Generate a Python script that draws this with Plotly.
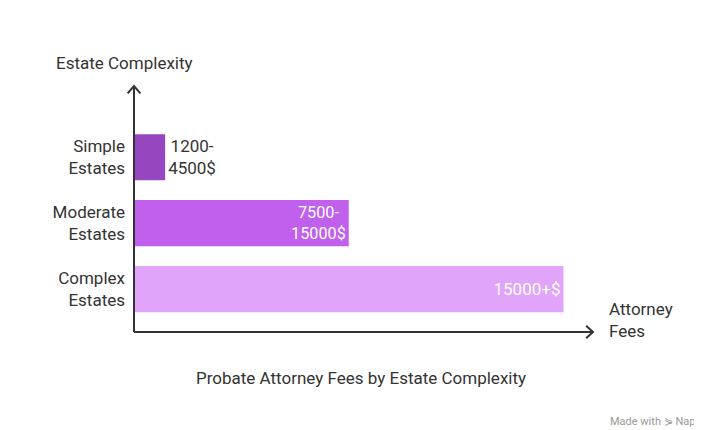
import plotly.graph_objects as go

categories = ["Complex<br>Estates", "Moderate<br>Estates", "Simple<br>Estates"]
values = [26.2, 13.1, 1.9]
labels = ["15000+$", "7500-<br>15000$", "1200-<br>4500$"]
colors = ["#E0A4FA", "#C060EC", "#9646BE"]
positions = ["inside", "inside", "outside"]

fig = go.Figure()
fig.add_trace(go.Bar(
    y=[0, 1, 2], x=values, orientation="h", width=0.7,
    marker=dict(color=colors, line=dict(width=0)),
    text=labels, textposition=positions, insidetextanchor="end",
    textfont=dict(size=17, family="Roboto"),
    insidetextfont=dict(color="white", size=17), outsidetextfont=dict(color="#333", size=17),
    cliponaxis=False, hoverinfo="skip"))

fig.update_layout(
    width=702, height=430, margin=dict(l=126, r=117, t=78, b=106),
    plot_bgcolor="white", paper_bgcolor="white", showlegend=False,
    font=dict(family="Roboto", color="#333", size=17),
    xaxis=dict(range=[0, 28], showgrid=False, zeroline=False, showticklabels=False, fixedrange=True),
    yaxis=dict(range=[-0.65, 3.08], showgrid=False, zeroline=False, tickvals=[0, 1, 2],
               ticktext=categories, ticks="", ticklabelstandoff=8, tickfont=dict(size=17, color="#333")),
)
fig.add_shape(type="line", xref="paper", yref="paper", x0=0, y0=0, x1=0, y1=1, line=dict(color="#333", width=2))
fig.add_shape(type="line", xref="paper", yref="paper", x0=0, y0=0, x1=1, y1=0, line=dict(color="#333", width=2))
fig.add_shape(type="path", xref="paper", yref="paper",
              path="M -0.014,0.97 L 0,1 L 0.014,0.97", line=dict(color="#333", width=2))
fig.add_shape(type="path", xref="paper", yref="paper",
              path="M 0.985,0.025 L 1,0 L 0.985,-0.025", line=dict(color="#333", width=2))

fig.add_annotation(xref="paper", yref="paper", x=-0.175, y=1.045, xanchor="left", yanchor="bottom",
                   text="Estate Complexity", showarrow=False, font=dict(size=17, color="#333"))
fig.add_annotation(xref="paper", yref="paper", x=1.03, y=0.05, xanchor="left", yanchor="middle",
                   text="Attorney<br>Fees", align="left", showarrow=False, font=dict(size=17, color="#333"))
fig.add_annotation(xref="paper", yref="paper", x=0.495, y=-0.14, xanchor="center", yanchor="top",
                   text="Probate Attorney Fees by Estate Complexity", showarrow=False,
                   font=dict(size=17, color="#333"))
fig.add_annotation(xref="paper", yref="paper", x=1.26, y=-0.33, xanchor="right", yanchor="top",
                   text="Made with ⋟ Napkin", showarrow=False, font=dict(size=11, color="#999"))

fig.write_html("out.html")
